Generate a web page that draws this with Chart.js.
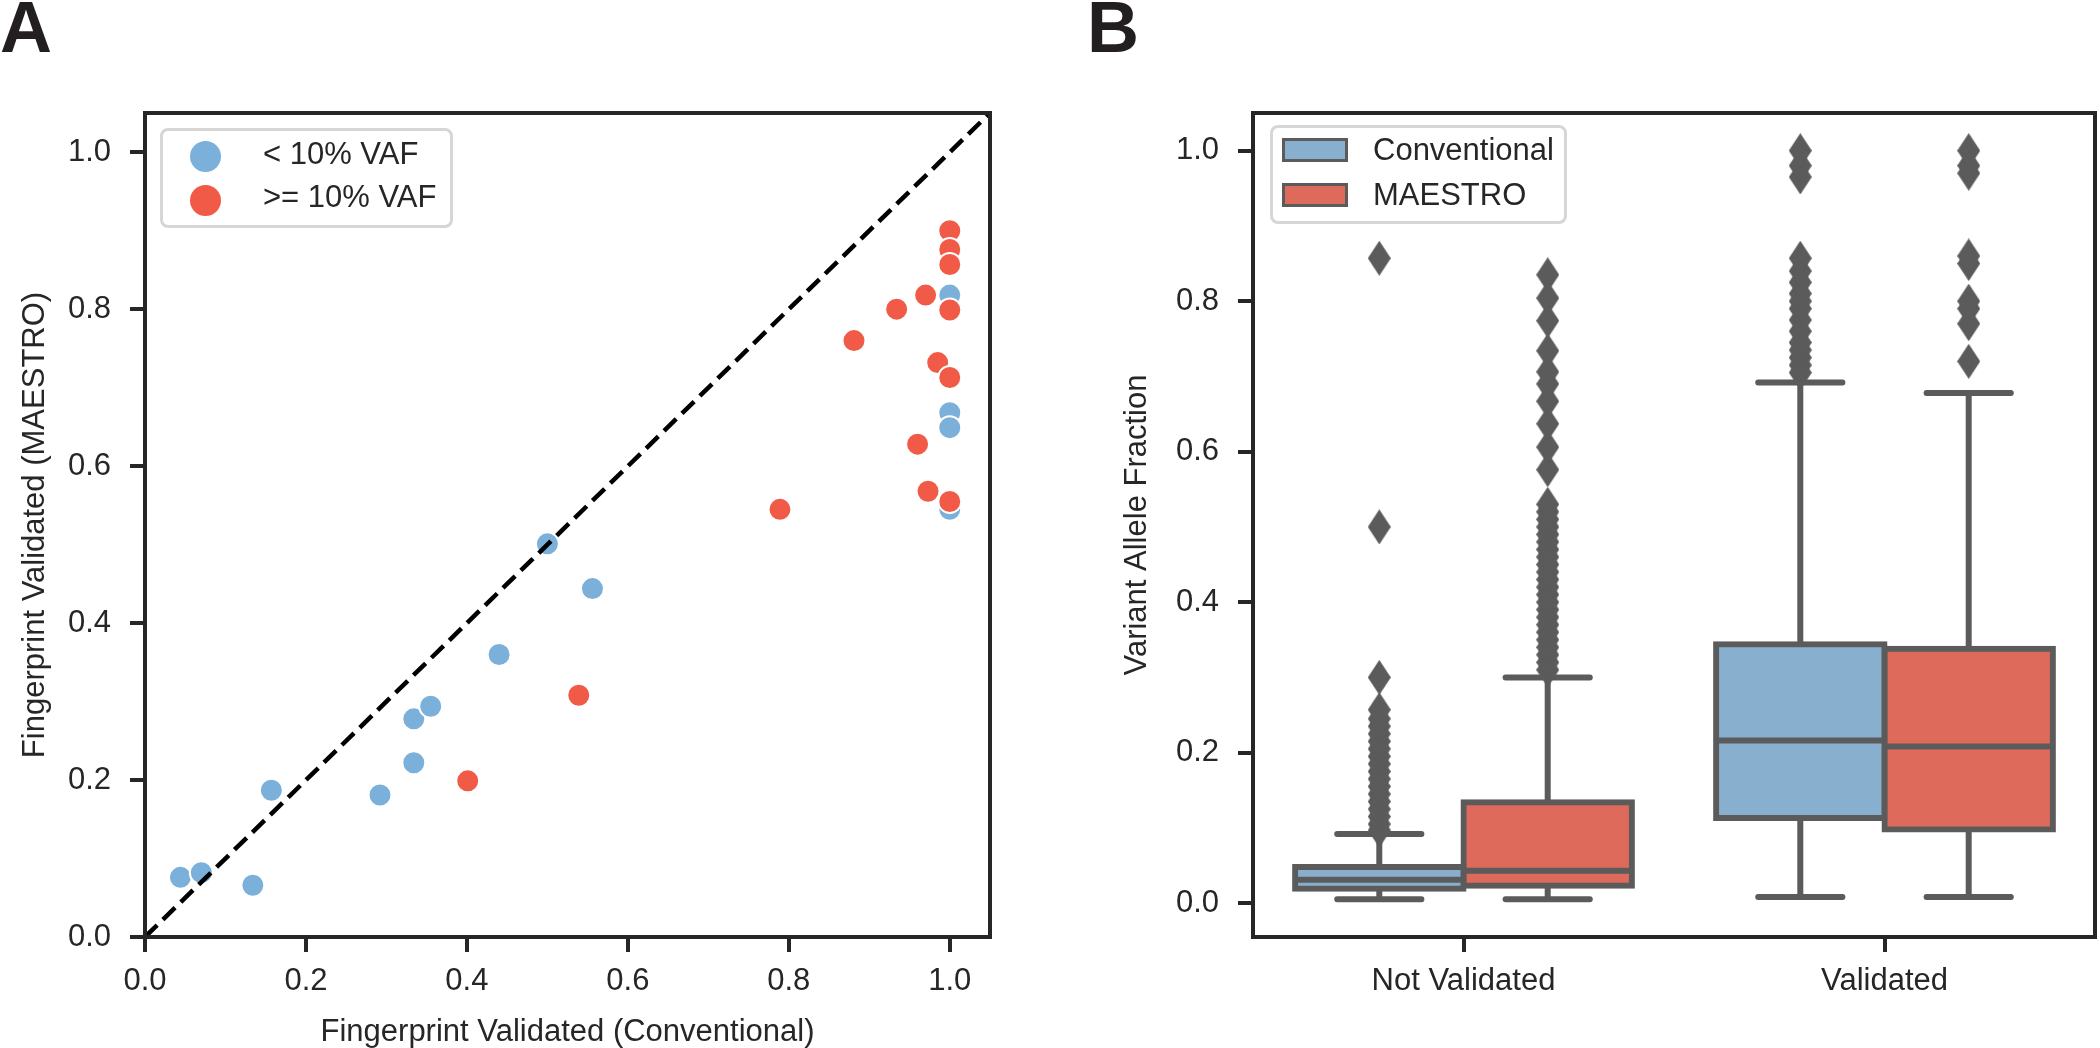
<!DOCTYPE html>
<html>
<head>
<meta charset="utf-8">
<script src="https://cdn.jsdelivr.net/npm/chart.js@4.4.0/dist/chart.umd.min.js"></script>
<style>
  html, body { margin: 0; padding: 0; background: #fff; }
  body { width: 2100px; height: 1048px; position: relative; overflow: hidden;
         font-family: "Liberation Sans", Arial, sans-serif; color: #262626; }
  canvas { position: absolute; top: 0; }
  #chartA { left: 0; }
  #chartB { left: 1050px; }
  .tag { position: absolute; font-weight: bold; font-size: 72px; line-height: 72px; color: #231f20; }
  .legend { position: absolute; box-sizing: border-box; border: 3px solid #d6d6d6; border-radius: 8px;
            background: rgba(255,255,255,0.8); }
  .item { position: absolute; font-size: 31px; line-height: 36px; white-space: nowrap; }
  .dot { position: absolute; width: 31px; height: 31px; border-radius: 50%; }
  .patch { position: absolute; width: 66px; height: 24px; box-sizing: border-box; border: 3px solid #5b5b5b; }
</style>
</head>
<body>
<canvas id="chartA" width="1050" height="1048"></canvas>
<canvas id="chartB" width="1050" height="1048"></canvas>

<div class="tag" style="left:0;top:-9px">A</div>
<div class="tag" style="left:1087px;top:-9px">B</div>

<!-- legenda A -->
<div class="legend" style="left:160px;top:128px;width:293px;height:100px"></div>
<div class="dot" style="left:190px;top:141px;background:#7bb0da"></div>
<div class="dot" style="left:190px;top:185px;background:#f05a46"></div>
<div class="item" style="left:263px;top:136px">&lt; 10% VAF</div>
<div class="item" style="left:263px;top:179px">&gt;= 10% VAF</div>

<!-- legenda B -->
<div class="legend" style="left:1270px;top:125px;width:297px;height:99px"></div>
<div class="patch" style="left:1282px;top:138px;background:#88b0ce"></div>
<div class="patch" style="left:1282px;top:183px;background:#de6a5c"></div>
<div class="item" style="left:1373px;top:132px">Conventional</div>
<div class="item" style="left:1373px;top:177px">MAESTRO</div>

<script>
// --- painel A: fingerprint validated ---
const lowVafX  = [0.044, 0.070, 0.134, 0.157, 0.292, 0.334, 0.334, 0.355, 0.440, 0.500, 0.556, 1.0, 1.0, 1.0, 1.0];
const lowVafY  = [0.076, 0.082, 0.066, 0.187, 0.181, 0.222, 0.278, 0.294, 0.360, 0.501, 0.444, 0.818, 0.668, 0.649, 0.545];
const highVafX = [0.401, 0.539, 0.789, 0.881, 0.934, 0.970, 1.0, 1.0, 1.0, 1.0, 0.985, 1.0, 0.960, 0.973, 1.0];
const highVafY = [0.199, 0.308, 0.545, 0.760, 0.800, 0.818, 0.900, 0.876, 0.857, 0.799, 0.732, 0.713, 0.628, 0.568, 0.555];
const identityLine = [0, 1.05];
const ticksA = [0, 0.2, 0.4, 0.6, 0.8, 1.0];

// --- painel B: VAF boxplots ---
const categories = ['Not Validated', 'Validated'];
const convLow = [0.005, 0.008];
const convQ1  = [0.019, 0.113];
const convMed = [0.031, 0.216];
const convQ3  = [0.048, 0.344];
const convHigh = [0.092, 0.692];
const maesLow = [0.005, 0.008];
const maesQ1  = [0.023, 0.098];
const maesMed = [0.043, 0.208];
const maesQ3  = [0.134, 0.338];
const maesHigh = [0.300, 0.678];
const convOutNotVal = [0.097, 0.105, 0.115, 0.125, 0.135, 0.145, 0.155, 0.165, 0.175, 0.185, 0.195,
                       0.205, 0.215, 0.225, 0.235, 0.245, 0.257, 0.300, 0.500, 0.857];
const convOutVal = [0.705, 0.715, 0.725, 0.735, 0.745, 0.760, 0.775, 0.790, 0.800, 0.810, 0.825,
                    0.840, 0.857, 0.965, 0.980, 1.000];
const maesOutNotVal = [0.310, 0.320, 0.330, 0.340, 0.350, 0.360, 0.370, 0.380, 0.390, 0.400, 0.410,
                       0.420, 0.430, 0.440, 0.450, 0.460, 0.470, 0.480, 0.490, 0.500, 0.510, 0.520,
                       0.530, 0.576, 0.606, 0.637, 0.667, 0.690, 0.706, 0.734, 0.774, 0.804, 0.835];
const maesOutVal = [0.720, 0.770, 0.790, 0.800, 0.850, 0.860, 0.970, 0.980, 1.000];
const ticksB = [0, 0.2, 0.4, 0.6, 0.8, 1.0];

// --- estilos ---
const FONT = '"Liberation Sans", Arial, sans-serif';
const INK = '#262626';
const GRAY = '#5b5b5b';
const BLUE = '#7bb0da', RED = '#f05a46';
const BOX_BLUE = '#88b0ce', BOX_RED = '#de6a5c';
Chart.defaults.font.family = FONT;
Chart.defaults.color = INK;

const frame = {
    id: 'frame',
    afterDatasetsDraw(chart) {
        const { ctx, chartArea: a } = chart;
        ctx.save();
        ctx.strokeStyle = INK;
        ctx.lineWidth = 4;
        ctx.strokeRect(a.left, a.top, a.right - a.left, a.bottom - a.top);
        ctx.restore();
    }
};

const tickGrid = { drawOnChartArea: false, offset: false, tickLength: 15, tickWidth: 4, lineWidth: 4, color: INK, tickColor: INK };
const tickFont = { size: 31, family: FONT };
const titleFont = { size: 31, family: FONT, lineHeight: 1 };
const setTicks = vals => s => { s.ticks = vals.map(v => ({ value: v })); };

const pts = (xs, ys) => xs.map((x, i) => ({ x, y: ys[i] }));

new Chart(document.getElementById('chartA'), {
    type: 'scatter',
    data: {
        datasets: [
            { label: '< 10% VAF', data: pts(lowVafX, lowVafY), backgroundColor: BLUE, borderColor: '#fff',
              borderWidth: 2, pointRadius: 11.5, order: 2 },
            { label: '>= 10% VAF', data: pts(highVafX, highVafY), backgroundColor: RED, borderColor: '#fff',
              borderWidth: 2, pointRadius: 11.5, order: 1 },
            { type: 'line', data: pts(identityLine, identityLine), borderColor: '#000', borderWidth: 4.5,
              borderDash: [17, 8], pointRadius: 0, order: 0 }
        ]
    },
    options: {
        responsive: false, animation: false, devicePixelRatio: 1,
        layout: { padding: { left: 0, top: 113, right: 60, bottom: 0 } },
        plugins: { legend: { display: false }, tooltip: { enabled: false } },
        scales: {
            x: {
                type: 'linear', min: 0, max: 1.05,
                afterBuildTicks: setTicks(ticksA),
                afterFit: s => { s.height = 111; },
                border: { display: false }, grid: tickGrid,
                ticks: { font: tickFont, color: INK, padding: 11, maxRotation: 0, autoSkip: false, callback: v => v.toFixed(1) },
                title: { display: true, text: 'Fingerprint Validated (Conventional)', color: INK, font: titleFont, padding: 0 }
            },
            y: {
                type: 'linear', min: 0, max: 1.05,
                afterBuildTicks: setTicks(ticksA),
                afterFit: s => { s.width = 145; },
                border: { display: false }, grid: tickGrid,
                ticks: { font: tickFont, color: INK, padding: 19, autoSkip: false, callback: v => v.toFixed(1) },
                title: { display: true, text: 'Fingerprint Validated (MAESTRO)', color: INK, font: titleFont, padding: { top: 20, bottom: 0 } }
            }
        }
    },
    plugins: [frame]
});

// deslocamento de cada hue dentro da categoria (seaborn: largura 0.8 dividida em 2)
const HUE_OFF = 0.2, CAP = 0.1;
const gap = x => ({ x, y: null });
const whiskers = (q1, q3, lo, hi, off) => categories.flatMap((c, i) => [
    { x: i + off, y: q1[i] }, { x: i + off, y: lo[i] }, gap(i + off),
    { x: i + off, y: q3[i] }, { x: i + off, y: hi[i] }, gap(i + off)
]);
const caps = (lo, hi, off) => categories.flatMap((c, i) => [
    { x: i + off - CAP, y: lo[i] }, { x: i + off + CAP, y: lo[i] }, gap(i + off),
    { x: i + off - CAP, y: hi[i] }, { x: i + off + CAP, y: hi[i] }, gap(i + off)
]);
const medians = (med, off) => categories.flatMap((c, i) => [
    { x: i + off - HUE_OFF, y: med[i] }, { x: i + off + HUE_OFF, y: med[i] }, gap(i + off)
]);
const boxes = (q1, q3, off) => categories.map((c, i) => ({ x: i + off, y: [q1[i], q3[i]] }));
const fliers = (groups, off) => groups.flatMap((vals, i) => vals.map(y => ({ x: i + off, y })));

const makeDiamond = (w, h, color) => {
    const c = document.createElement('canvas');
    c.width = w; c.height = h;
    const g = c.getContext('2d');
    g.fillStyle = color;
    g.beginPath();
    g.moveTo(w / 2, 0); g.lineTo(w, h / 2); g.lineTo(w / 2, h); g.lineTo(0, h / 2);
    g.closePath(); g.fill();
    return c;
};
const diamond = makeDiamond(23, 35, GRAY);

const lineDs = (data, cap, order) => ({
    type: 'line', data, borderColor: GRAY, borderWidth: 6, pointRadius: 0,
    spanGaps: false, borderCapStyle: cap, tension: 0, order
});
const boxDs = (label, data, color) => ({
    type: 'bar', label, data, backgroundColor: color, borderColor: GRAY,
    borderWidth: 6, borderSkipped: false, inflateAmount: 3, grouped: false,
    barPercentage: 1, categoryPercentage: 1, order: 2
});
const flierDs = data => ({ type: 'scatter', data, pointStyle: diamond, pointRadius: 4, order: 1 });

new Chart(document.getElementById('chartB'), {
    type: 'scatter',
    data: {
        datasets: [
            boxDs('Conventional', boxes(convQ1, convQ3, -HUE_OFF), BOX_BLUE),
            boxDs('MAESTRO', boxes(maesQ1, maesQ3, HUE_OFF), BOX_RED),
            lineDs(whiskers(convQ1, convQ3, convLow, convHigh, -HUE_OFF), 'butt', 3),
            lineDs(whiskers(maesQ1, maesQ3, maesLow, maesHigh, HUE_OFF), 'butt', 3),
            lineDs(caps(convLow, convHigh, -HUE_OFF), 'round', 3),
            lineDs(caps(maesLow, maesHigh, HUE_OFF), 'round', 3),
            lineDs(medians(convMed, -HUE_OFF), 'butt', 0),
            lineDs(medians(maesMed, HUE_OFF), 'butt', 0),
            flierDs(fliers([convOutNotVal, convOutVal], -HUE_OFF)),
            flierDs(fliers([maesOutNotVal, maesOutVal], HUE_OFF))
        ]
    },
    options: {
        responsive: false, animation: false, devicePixelRatio: 1,
        layout: { padding: { left: 0, top: 113, right: 3, bottom: 0 } },
        plugins: { legend: { display: false }, tooltip: { enabled: false } },
        scales: {
            x: {
                type: 'linear', min: -0.5, max: 1.5, offset: false,
                afterBuildTicks: setTicks(categories.map((c, i) => i)),
                afterFit: s => { s.height = 111; },
                border: { display: false }, grid: tickGrid,
                ticks: { font: tickFont, color: INK, padding: 11, maxRotation: 0, autoSkip: false, callback: v => categories[v] }
            },
            y: {
                type: 'linear', min: -0.045, max: 1.05,
                afterBuildTicks: setTicks(ticksB),
                afterFit: s => { s.width = 203; },
                border: { display: false }, grid: tickGrid,
                ticks: { font: tickFont, color: INK, padding: 19, autoSkip: false, callback: v => v.toFixed(1) },
                title: { display: true, text: 'Variant Allele Fraction', color: INK, font: titleFont, padding: { top: 72, bottom: 0 } }
            }
        }
    },
    plugins: [frame]
});
</script>
</body>
</html>
